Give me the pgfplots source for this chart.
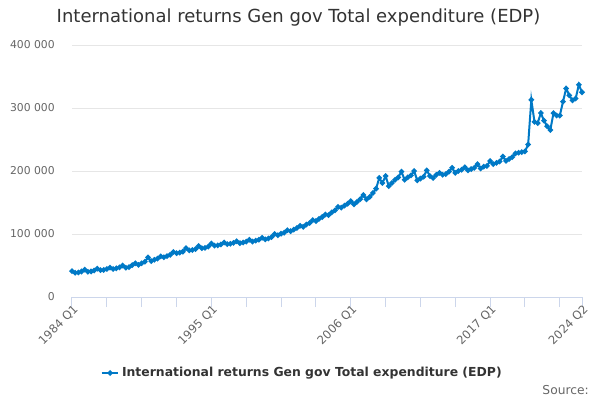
\documentclass[border=0pt]{standalone}
\usepackage{pgfplots}
\pgfplotsset{compat=1.18}
\usepackage{fontspec}
\setmainfont{DejaVu Sans}
\definecolor{lineblue}{HTML}{0079C6}
\definecolor{txtgrey}{HTML}{666666}
\definecolor{titlegrey}{HTML}{333333}
\definecolor{gridgrey}{HTML}{E6E6E6}
\definecolor{axisblue}{HTML}{CCD6EB}
\pgfplotstableread{
x y
0 41000
1 38500
2 39000
3 40500
4 43500
5 40000
6 40500
7 42000
8 45000
9 42500
10 43000
11 44500
12 46500
13 44500
14 45500
15 47000
16 50000
17 46500
18 47500
19 50500
20 53500
21 51000
22 53500
23 56000
24 63000
25 57000
26 59000
27 61000
28 64500
29 63000
30 65000
31 67000
32 71500
33 69500
34 70500
35 72000
36 77500
37 74000
38 74500
39 76000
40 81000
41 77500
42 78000
43 80000
44 85000
45 81500
46 82000
47 83500
48 86500
49 84000
50 84500
51 86000
52 88500
53 85500
54 86500
55 88000
56 91000
57 88000
58 89500
59 91000
60 94000
61 91500
62 93000
63 95000
64 100000
65 98000
66 100500
67 102000
68 106000
69 104500
70 107000
71 109500
72 113000
73 111500
74 115000
75 117500
76 122000
77 120500
78 124000
79 127000
80 131000
81 130000
82 134500
83 137500
84 143000
85 142000
86 145000
87 148000
88 152000
89 147000
90 151000
91 155500
92 162000
93 155000
94 159000
95 165000
96 172000
97 189000
98 181000
99 192000
100 176000
101 181000
102 186000
103 190000
104 199000
105 186000
106 190000
107 193000
108 200000
109 185000
110 188000
111 191000
112 201000
113 192000
114 189000
115 194000
116 197000
117 194000
118 195000
119 199000
120 205000
121 197000
122 200000
123 202000
124 206000
125 201000
126 203000
127 205000
128 211000
129 204000
130 207000
131 208000
132 216000
133 211000
134 213000
135 215000
136 223000
137 216000
138 219000
139 222000
140 228000
141 229000
142 230000
143 231000
144 242000
145 313000
146 278000
147 276000
148 292000
149 280000
150 271000
151 265000
152 292000
153 288000
154 288000
155 310000
156 331000
157 320000
158 312000
159 315000
160 337000
161 325000
}\datatable
\begin{document}
\begin{tikzpicture}
\path[use as bounding box] (-54pt,-77.25pt) rectangle (396pt,222.75pt);
\begin{axis}[
  at={(0,0)}, anchor=south west,
  scale only axis,
  width=382.5pt, height=189pt,
  xmin=0, xmax=161, ymin=0, ymax=400000,
  scaled y ticks=false,
  axis lines*=left,
  x axis line style={draw=axisblue, line width=0.75pt, -},
  y axis line style={draw=none},
  xtick={0,44,88,132,161},
  xticklabels={1984 Q1,1995 Q1,2006 Q1,2017 Q1,2024 Q2},
  minor xtick={11,22,33,55,66,77,99,110,121,143,154},
  xtick align=outside,
  major tick length=7.5pt,
  minor tick length=7.5pt,
  xtick style={draw=axisblue, line width=0.75pt},
  minor x tick style={draw=axisblue, line width=0.75pt},
  xticklabel style={rotate=45, anchor=east, inner sep=0pt, xshift=2pt, yshift=-2.5pt, font=\fontsize{8.7}{10}\selectfont, text=txtgrey},
  ytick={0,100000,200000,300000,400000},
  yticklabels={0,100 000,200 000,300 000,400 000},
  ytick style={draw=none},
  yticklabel style={anchor=east, inner sep=0pt, xshift=-12.75pt, font=\fontsize{8.1}{10}\selectfont, text=txtgrey},
  ymajorgrids,
  grid style={draw=gridgrey, line width=0.75pt},
  clip=false,
  legend style={at={(0.452,-0.3016)}, anchor=center, draw=none, fill=none,
    font=\fontsize{9.3}{11}\selectfont\bfseries, text=titlegrey,
    legend cell align=left},
  legend image code/.code={\draw[mark repeat=2,mark phase=2] plot coordinates {(0cm,0cm) (0.22cm,0cm) (0.44cm,0cm)};},
]
\addplot[lineblue, line width=1.5pt, mark=*, mark size=1.2pt, mark options={fill=lineblue, draw=lineblue}] table[x=x,y=y] {\datatable};
\addlegendentry{International returns Gen gov Total expenditure (EDP)}
\end{axis}
\node[font=\fontsize{13.5}{16}\selectfont, text=titlegrey] at (169.9pt,209.25pt) {International returns Gen gov Total expenditure (EDP)};
\node[anchor=east, inner sep=0pt, font=\fontsize{9.2}{11}\selectfont, text=txtgrey] at (387.75pt,-69.75pt) {Source:};
\end{tikzpicture}
\end{document}
